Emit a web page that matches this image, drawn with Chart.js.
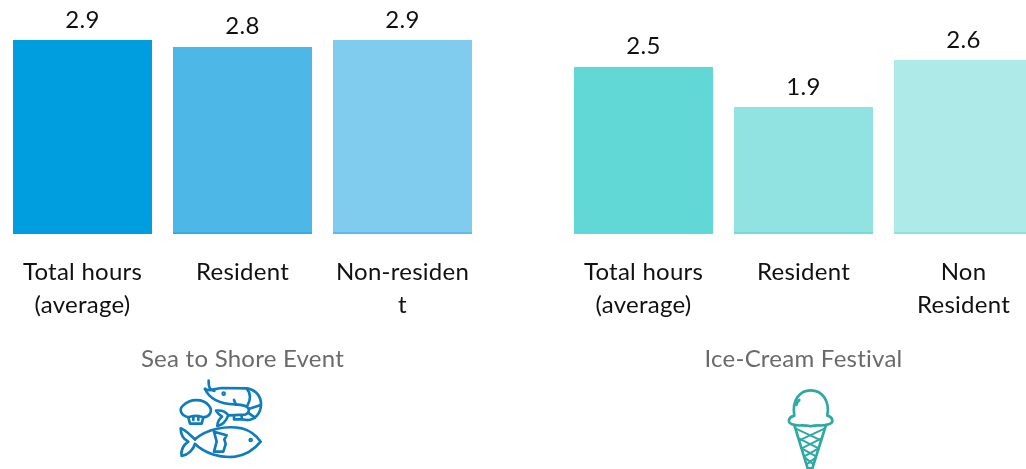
<!DOCTYPE html>
<html>
<head>
<meta charset="utf-8">
<script src="https://cdn.jsdelivr.net/npm/chart.js@4/dist/chart.umd.min.js"></script>
<style>
  html, body { margin: 0; padding: 0; background: #fff; overflow: hidden; }
  #page { position: relative; width: 1026px; height: 469px; overflow: hidden; }
  #seaChart { position: absolute; left: 2px; top: 0; }
  #iceChart { position: absolute; left: 563px; top: 0; }
  .icon { position: absolute; fill: none; stroke-linecap: round; stroke-linejoin: round; }
</style>
</head>
<body>
<div id="page">
  <canvas id="seaChart" width="481" height="372"></canvas>
  <canvas id="iceChart" width="481" height="372"></canvas>

  <!-- seafood icon -->
  <svg class="icon" style="left:160px;top:340px" width="140" height="129" viewBox="0 0 420 387" stroke="#0f7cbc" stroke-width="8">
    <path d="M146 122C145 140 148 152 163 153"/>
    <path d="M135 147C150 156 160 146 185 144L262 145C290 150 304 172 303 195C302 220 285 240 262 240"/>
    <path d="M135 147C150 180 185 192 225 193C245 194 262 196 266 206C268 214 264 222 255 224L205 226"/>
    <path d="M260 145C272 160 272 180 262 197M300 196L268 206M285 233L264 218M228 194L222 180M245 226L245 238L262 240M222 226L222 238L245 238"/>
    <path d="M205 226C195 212 182 210 168 212C175 222 180 226 186 230C176 238 172 248 172 258C186 256 198 244 205 226"/>
    <circle cx="191" cy="161" r="3"/>
    <path d="M85 232C62 226 55 208 70 196C90 175 130 175 146 196C160 212 150 230 130 232C115 226 100 226 85 232Z"/>
    <path d="M85 232L90 251L125 251L130 232M100 228L100 240M115 228L115 240"/>
    <path d="M105 298C140 266 200 256 245 265C270 272 290 288 302 305C285 326 260 345 225 350C180 355 135 340 105 312"/>
    <path d="M105 298C92 288 78 270 62 265C62 285 70 298 85 305C70 315 62 330 65 348C85 345 100 328 105 312"/>
    <path d="M162 275L200 286L193 298L197 312L190 335L162 335L170 305Z"/>
    <circle cx="272" cy="300" r="3"/>
  </svg>

  <!-- ice cream cone icon -->
  <svg class="icon" style="left:760px;top:375px" width="90" height="94" viewBox="0 0 270 282" stroke="#2fa9a4" stroke-width="8">
    <path d="M103 122C95 75 120 46 152 46C185 46 210 75 202 122C218 126 224 142 206 148C190 155 172 148 152 154C130 148 112 155 96 148C80 142 86 126 103 122Z"/>
    <path d="M109 90C110 84 113 79 118 75"/>
    <path d="M103 150L143 280L157 280L198 150"/>
    <g stroke-width="6">
      <path d="M106 160L183 196M195 160L118 196"/>
      <path d="M116 190L176 220M185 190L125 220"/>
      <path d="M125 220L168 244M176 220L133 244"/>
      <path d="M134 248L161 268M167 248L140 268"/>
    </g>
  </svg>
</div>

<script>
const FONT = "Lato, 'Open Sans', sans-serif";

// Sea to Shore Event
const seaCategories = [["Total hours", "(average)"], "Resident", ["Non-residen", "t"]];
const seaValues = [2.9, 2.8, 2.9];
const seaColors = ["#009ddf", "#4db8e8", "#80ccee"];
const seaEdges = ["#009ddf", "#33ade6", "#5dbdea"];

// Ice-Cream Festival
const iceCategories = [["Total hours", "(average)"], "Resident", ["Non", "Resident"]];
const iceValues = [2.5, 1.9, 2.6];
const iceColors = ["#62d8d6", "#91e3e1", "#aeeae7"];
const iceEdges = ["#62d8d6", "#72dcda", "#8ce3e0"];

// slightly looser tracking for all canvas text, and the value above each bar
const valueLabels = {
  id: "valueLabels",
  beforeDraw(chart) {
    chart.ctx.letterSpacing = "0.25px";
  },
  afterDatasetsDraw(chart) {
    const ctx = chart.ctx;
    const meta = chart.getDatasetMeta(0);
    ctx.save();
    ctx.font = "24px " + FONT;
    ctx.fillStyle = "#111";
    ctx.textAlign = "center";
    ctx.textBaseline = "bottom";
    meta.data.forEach((bar, i) => {
      ctx.fillText(chart.data.datasets[0].data[i].toFixed(1), bar.x, bar.y - 8);
    });
    ctx.restore();
  }
};

function makeChart(id, title, categories, values, colors, edges) {
  return new Chart(document.getElementById(id), {
    type: "bar",
    plugins: [valueLabels],
    data: {
      labels: categories,
      datasets: [{
        data: values,
        backgroundColor: colors,
        borderColor: edges,
        borderWidth: { top: 0, left: 0, right: 0, bottom: 2 },
        borderSkipped: false,
        barPercentage: 0.86875,
        categoryPercentage: 1
      }]
    },
    options: {
      responsive: false,
      animation: false,
      layout: { padding: { top: 33.3, left: 0.5, right: 0.5 } },
      plugins: { legend: { display: false }, tooltip: { enabled: false } },
      scales: {
        y: { display: false, min: 0, max: 3 },
        x: {
          afterFit(scale) {
            // keep the plot full width, the long labels may overhang
            scale.paddingLeft = 0;
            scale.paddingRight = 0;
            scale.height = 138;
          },
          grid: { display: false, drawTicks: false },
          border: { display: false },
          ticks: {
            color: "#111",
            maxRotation: 0,
            autoSkip: false,
            padding: 22,
            font: { family: FONT, size: 24, lineHeight: 1.375 }
          },
          title: {
            display: true,
            text: title,
            color: "#6a6a6a",
            padding: { top: 24, bottom: -2 },
            font: { family: FONT, size: 24 }
          }
        }
      }
    }
  });
}

makeChart("seaChart", "Sea to Shore Event", seaCategories, seaValues, seaColors, seaEdges);
makeChart("iceChart", "Ice-Cream Festival", iceCategories, iceValues, iceColors, iceEdges);
</script>
</body>
</html>
